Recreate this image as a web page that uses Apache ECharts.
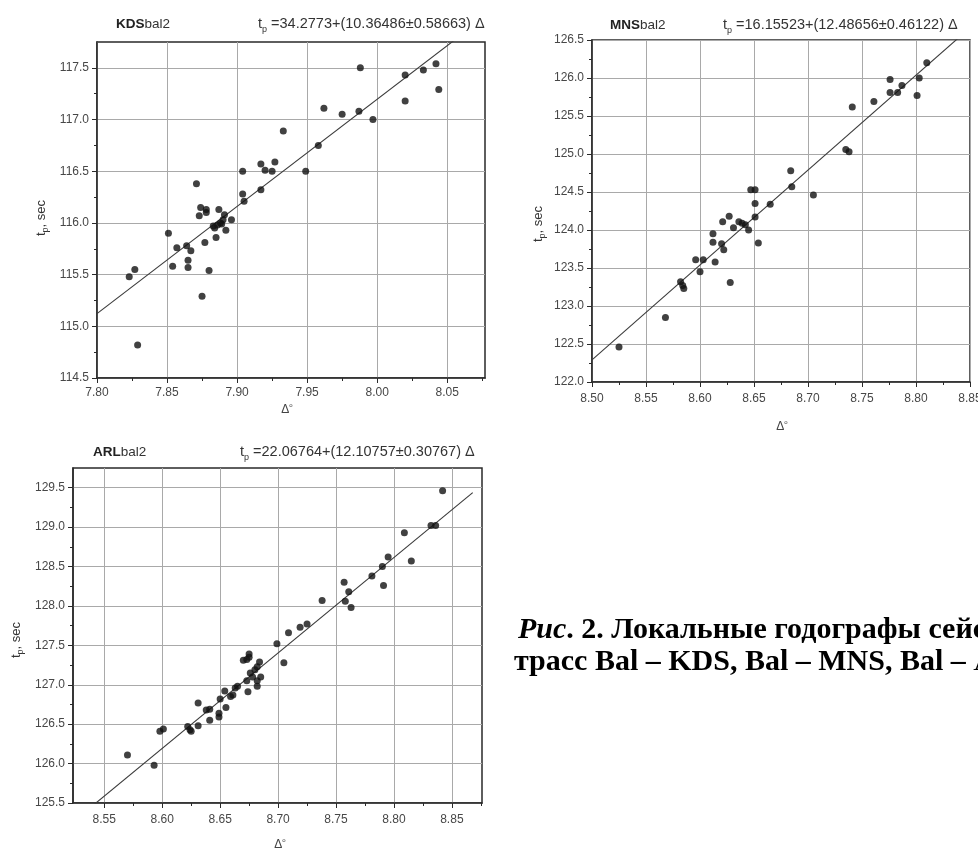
<!DOCTYPE html>
<html>
<head>
<meta charset="utf-8">
<script src="https://cdn.jsdelivr.net/npm/echarts@6/dist/echarts.min.js"></script>
<style>
  html, body { margin: 0; padding: 0; background: #fff; }
  #chart { width: 978px; height: 852px; }
</style>
</head>
<body>
<div id="chart"></div>
<script>
// ---- Travel-time observations: epicentral distance (deg) vs P arrival (sec) ----
const kdsDelta = [7.823, 7.827, 7.829, 7.851, 7.854, 7.857, 7.864, 7.865, 7.865, 7.867,
  7.871, 7.874, 7.873, 7.878, 7.878, 7.877, 7.875, 7.880, 7.887, 7.891,
  7.884, 7.885, 7.886, 7.888, 7.890, 7.892, 7.896, 7.883, 7.889, 7.905,
  7.904, 7.904, 7.917, 7.920, 7.925, 7.927, 7.917, 7.933, 7.949, 7.958,
  7.962, 7.975, 7.988, 7.987, 7.997, 8.020, 8.020, 8.033, 8.042, 8.044];
const kdsTime = [115.48, 115.55, 114.82, 115.90, 115.58, 115.76, 115.78, 115.64, 115.57, 115.73,
  116.38, 116.15, 116.07, 116.13, 116.10, 115.81, 115.29, 115.54, 116.13, 116.08,
  115.95, 115.86, 115.98, 116.00, 116.03, 115.93, 116.03, 115.97, 115.99, 116.21,
  116.28, 116.50, 116.57, 116.51, 116.50, 116.59, 116.32, 116.89, 116.50, 116.75,
  117.11, 117.05, 117.50, 117.08, 117.00, 117.18, 117.43, 117.48, 117.54, 117.29];

const mnsDelta = [8.525, 8.568, 8.582, 8.584, 8.585, 8.596, 8.603, 8.600, 8.614, 8.612,
  8.612, 8.620, 8.622, 8.628, 8.621, 8.627, 8.631, 8.636, 8.639, 8.642,
  8.645, 8.647, 8.651, 8.651, 8.651, 8.654, 8.665, 8.685, 8.684, 8.705,
  8.735, 8.738, 8.741, 8.761, 8.776, 8.776, 8.783, 8.787, 8.801, 8.803, 8.810];
const mnsTime = [122.46, 122.85, 123.32, 123.27, 123.23, 123.61, 123.61, 123.45, 123.58, 123.95,
  123.84, 123.82, 123.74, 123.31, 124.11, 124.18, 124.03, 124.11, 124.09, 124.07,
  124.00, 124.53, 124.53, 124.35, 124.17, 123.83, 124.34, 124.57, 124.78, 124.46,
  125.06, 125.03, 125.62, 125.69, 125.98, 125.81, 125.81, 125.90, 125.77, 126.00, 126.20];

const arlDelta = [8.570, 8.593, 8.598, 8.601, 8.622, 8.624, 8.625, 8.631, 8.631, 8.638,
  8.641, 8.641, 8.649, 8.649, 8.650, 8.655, 8.654, 8.659, 8.661, 8.663,
  8.665, 8.670, 8.673, 8.675, 8.675, 8.674, 8.673, 8.676, 8.678, 8.680,
  8.682, 8.682, 8.685, 8.684, 8.682, 8.699, 8.705, 8.709, 8.719, 8.725,
  8.738, 8.757, 8.761, 8.758, 8.763, 8.781, 8.790, 8.791, 8.795, 8.809,
  8.815, 8.832, 8.836, 8.842];
const arlTime = [126.11, 125.98, 126.41, 126.44, 126.47, 126.43, 126.41, 126.77, 126.48, 126.68,
  126.69, 126.55, 126.59, 126.64, 126.82, 126.71, 126.92, 126.85, 126.87, 126.96,
  126.98, 127.31, 127.32, 127.39, 127.35, 126.91, 127.05, 127.15, 127.10, 127.19,
  127.05, 126.98, 127.10, 127.29, 127.23, 127.52, 127.28, 127.66, 127.73, 127.77,
  128.07, 128.30, 128.18, 128.06, 127.98, 128.38, 128.50, 128.26, 128.62, 128.93,
  128.57, 129.02, 129.02, 129.46];

// ---- Linear fits t = a + b*Δ : [a, b, error of b] and the Δ span of each line ----
const kdsFit = [34.2773, 10.36486, 0.58663];
const mnsFit = [16.15523, 12.48656, 0.46122];
const arlFit = [22.06764, 12.10757, 0.30767];
const kdsFitRange = [7.80, 8.077];
const mnsFitRange = [8.50, 8.85];
const arlFitRange = [8.53, 8.868];

// ---- Axis extents and tick values ----
const kdsXRange = [7.80, 8.077];
const kdsYRange = [114.5, 117.75];
const kdsXTicks = [7.80, 7.85, 7.90, 7.95, 8.00, 8.05];
const kdsXMinor = [7.825, 7.875, 7.925, 7.975, 8.025, 8.075];
const kdsYTicks = [114.5, 115.0, 115.5, 116.0, 116.5, 117.0, 117.5];
const kdsYMinor = [114.75, 115.25, 115.75, 116.25, 116.75, 117.25];

const mnsXRange = [8.50, 8.85];
const mnsYRange = [122.0, 126.5];
const mnsXTicks = [8.50, 8.55, 8.60, 8.65, 8.70, 8.75, 8.80, 8.85];
const mnsXMinor = [8.525, 8.575, 8.625, 8.675, 8.725, 8.775, 8.825];
const mnsYTicks = [122.0, 122.5, 123.0, 123.5, 124.0, 124.5, 125.0, 125.5, 126.0, 126.5];
const mnsYMinor = [122.25, 122.75, 123.25, 123.75, 124.25, 124.75, 125.25, 125.75, 126.25];

const arlXRange = [8.523, 8.876];
const arlYRange = [125.5, 129.75];
const arlXTicks = [8.55, 8.60, 8.65, 8.70, 8.75, 8.80, 8.85];
const arlXMinor = [8.575, 8.625, 8.675, 8.725, 8.775, 8.825, 8.875];
const arlYTicks = [125.5, 126.0, 126.5, 127.0, 127.5, 128.0, 128.5, 129.0, 129.5];
const arlYMinor = [125.75, 126.25, 126.75, 127.25, 127.75, 128.25, 128.75, 129.25];

const stationNames = ['KDS', 'MNS', 'ARL'];
const captionLines = ['Рис', '. 2.', ' Локальные годографы сейсмических волн для', 'трасс Bal – KDS, Bal – MNS, Bal – ', 'ARL'];

// ---- Layout of the three panels ----
const SANS = '"Liberation Sans", Arial, sans-serif';
const SERIF = '"Liberation Serif", "Times New Roman", serif';
const panels = [
  { station: stationNames[0], rect: { left: 97, top: 42, width: 388, height: 336 },
    xr: kdsXRange, yr: kdsYRange, xt: kdsXTicks, xm: kdsXMinor, yt: kdsYTicks, ym: kdsYMinor,
    dx: kdsDelta, ty: kdsTime, fit: kdsFit, fr: kdsFitRange,
    title: [116, 24], eq: [258, 24], yName: [41, 218], xName: [287, 410], xMargin: 9 },
  { station: stationNames[1], rect: { left: 592, top: 40, width: 378, height: 342 },
    xr: mnsXRange, yr: mnsYRange, xt: mnsXTicks, xm: mnsXMinor, yt: mnsYTicks, ym: mnsYMinor,
    dx: mnsDelta, ty: mnsTime, fit: mnsFit, fr: mnsFitRange,
    title: [610, 25], eq: [723, 25], yName: [538, 224], xName: [782, 427], xMargin: 11 },
  { station: stationNames[2], rect: { left: 73, top: 468, width: 409, height: 335 },
    xr: arlXRange, yr: arlYRange, xt: arlXTicks, xm: arlXMinor, yt: arlYTicks, ym: arlYMinor,
    dx: arlDelta, ty: arlTime, fit: arlFit, fr: arlFitRange,
    title: [93, 452], eq: [240, 452], yName: [16, 640], xName: [280, 845], xMargin: 11 }
];

const grids = [], xAxes = [], yAxes = [], series = [], graphics = [];
const overlayGrids = [], overlayX = [], overlayY = [];
const labelStyle = { color: '#474747', fontSize: 12, fontFamily: SANS };
const axisLineStyle = { color: '#2a2a2a', width: 1.5 };
const gridLineColor = '#a9a9a9';
const eqRich = {
  t: { fontSize: 14.5, fontFamily: SANS, fill: '#333', lineHeight: 20 },
  s: { fontSize: 9, fontFamily: SANS, fill: '#333', lineHeight: 10, verticalAlign: 'bottom' }
};
const nameRich = {
  t: { fontSize: 13, fontFamily: SANS, fill: '#333', lineHeight: 19 },
  s: { fontSize: 9, fontFamily: SANS, fill: '#333', lineHeight: 10, verticalAlign: 'bottom' }
};

panels.forEach((p, i) => {
  // main grid with its framed box, major ticks, labels and grid lines
  grids.push(Object.assign({ show: true, borderColor: '#2a2a2a', borderWidth: 1.5, backgroundColor: '#fff',
    containLabel: false, outerBoundsMode: 'none' }, p.rect));
  xAxes.push({
    type: 'value', gridIndex: i, min: p.xr[0], max: p.xr[1],
    axisLine: { show: true, onZero: false, lineStyle: axisLineStyle },
    axisTick: { show: true, inside: false, length: 5, customValues: p.xt, lineStyle: { color: '#2a2a2a', width: 1 } },
    axisLabel: Object.assign({ customValues: p.xt, margin: p.xMargin, formatter: v => v.toFixed(2) }, labelStyle),
    splitLine: { show: true, lineStyle: { color: gridLineColor, width: 1 } }
  });
  yAxes.push({
    type: 'value', gridIndex: i, min: p.yr[0], max: p.yr[1],
    axisLine: { show: true, onZero: false, lineStyle: axisLineStyle },
    axisTick: { show: true, inside: false, length: 5, customValues: p.yt, lineStyle: { color: '#2a2a2a', width: 1 } },
    axisLabel: Object.assign({ customValues: p.yt, margin: 8, formatter: v => v.toFixed(1) }, labelStyle),
    splitLine: { show: true, lineStyle: { color: gridLineColor, width: 1 } }
  });

  // data points
  series.push({
    type: 'scatter', xAxisIndex: i, yAxisIndex: i, symbol: 'circle', symbolSize: 7,
    itemStyle: { color: '#111' }, z: 4, silent: true,
    data: p.dx.map((d, k) => [d, p.ty[k]])
  });
  // regression line drawn from the fitted coefficients
  series.push({
    type: 'line', xAxisIndex: i, yAxisIndex: i, symbol: 'none', clip: true, silent: true, z: 3,
    lineStyle: { color: '#3a3a3a', width: 1.1 },
    data: p.fr.map(d => [d, p.fit[0] + p.fit[1] * d])
  });

  // panel title and fit equation
  graphics.push({
    type: 'text', x: p.title[0], y: p.title[1], silent: true,
    style: { text: '{b|' + p.station + '}{n|bal2}', verticalAlign: 'middle',
      rich: { b: { fontSize: 13.5, fontWeight: 'bold', fontFamily: SANS, fill: '#222' },
              n: { fontSize: 13.5, fontFamily: SANS, fill: '#333' } } }
  });
  const eqText = ' =' + p.fit[0] + '+(' + p.fit[1] + '±' + p.fit[2] + ') Δ';
  graphics.push({
    type: 'text', x: p.eq[0], y: p.eq[1], silent: true,
    style: { text: '{t|t}{s|p}{t|' + eqText + '}', verticalAlign: 'middle', rich: eqRich }
  });
  // axis names
  graphics.push({
    type: 'text', x: p.yName[0], y: p.yName[1], rotation: Math.PI / 2, silent: true,
    style: { text: '{t|t}{s|p}{t|, sec}', align: 'center', verticalAlign: 'middle', rich: nameRich }
  });
  graphics.push({
    type: 'text', x: p.xName[0], y: p.xName[1], silent: true,
    style: { text: '{t|Δ}{s|o}', align: 'center', verticalAlign: 'middle',
      rich: { t: { fontSize: 12, fontFamily: SANS, fill: '#444', lineHeight: 16 },
              s: { fontSize: 6, fontFamily: SANS, fill: '#444', lineHeight: 8, verticalAlign: 'top' } } }
  });

  // overlay grid carrying the minor ticks only
  const j = panels.length + i;
  overlayGrids.push(Object.assign({ show: false, containLabel: false, outerBoundsMode: 'none' }, p.rect));
  overlayX.push({
    type: 'value', gridIndex: j, min: p.xr[0], max: p.xr[1],
    axisLine: { show: false }, axisLabel: { show: false }, splitLine: { show: false },
    axisTick: { show: true, inside: false, length: 3, customValues: p.xm, lineStyle: { color: '#2a2a2a', width: 1 } }
  });
  overlayY.push({
    type: 'value', gridIndex: j, min: p.yr[0], max: p.yr[1],
    axisLine: { show: false }, axisLabel: { show: false }, splitLine: { show: false },
    axisTick: { show: true, inside: false, length: 3, customValues: p.ym, lineStyle: { color: '#2a2a2a', width: 1 } }
  });
});

// figure caption
const capFont = 30;
graphics.push({
  type: 'text', x: 518, y: 630, silent: true,
  style: { text: '{bi|' + captionLines[0] + '}{b|' + captionLines[1] + captionLines[2] + '}', verticalAlign: 'middle',
    rich: { bi: { fontSize: capFont, fontWeight: 'bold', fontStyle: 'italic', fontFamily: SERIF, fill: '#000' },
            b: { fontSize: capFont, fontWeight: 'bold', fontFamily: SERIF, fill: '#000' } } }
});
graphics.push({
  type: 'text', x: 514, y: 662, silent: true,
  style: { text: '{b|' + captionLines[3] + '}{n|' + captionLines[4] + '}', verticalAlign: 'middle',
    rich: { b: { fontSize: capFont, fontWeight: 'bold', fontFamily: SERIF, fill: '#000' },
            n: { fontSize: capFont, fontFamily: SERIF, fill: '#000' } } }
});

const chart = echarts.init(document.getElementById('chart'), null, { renderer: 'canvas' });
chart.setOption({
  animation: false,
  backgroundColor: '#fff',
  grid: grids.concat(overlayGrids),
  xAxis: xAxes.concat(overlayX),
  yAxis: yAxes.concat(overlayY),
  series: series,
  graphic: graphics
});
</script>
</body>
</html>
